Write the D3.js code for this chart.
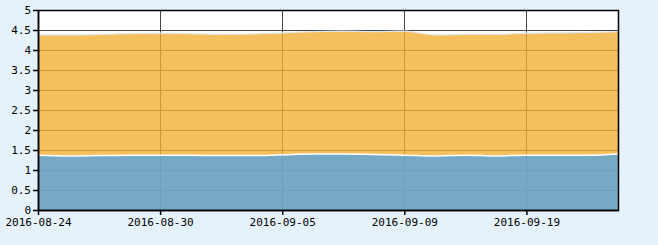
<!DOCTYPE html>
<html>
<head>
<meta charset="utf-8">
<script src="https://cdn.jsdelivr.net/npm/d3@7"></script>
<style>
  body { margin: 0; background: #e6f2fb; }
  svg { display: block; }
  .tick text { font-family: "DejaVu Sans Mono", monospace; font-size: 11px; fill: #000; }
</style>
</head>
<body>
<svg id="chart" width="658" height="245"></svg>
<script>
var dates = ["2016-08-24", "2016-08-25", "2016-08-26", "2016-08-29", "2016-08-30",
  "2016-08-31", "2016-09-01", "2016-09-02", "2016-09-05", "2016-09-06",
  "2016-09-07", "2016-09-08", "2016-09-09", "2016-09-12", "2016-09-13",
  "2016-09-14", "2016-09-19", "2016-09-20", "2016-09-21", "2016-09-22"];
var lower = [1.37, 1.35, 1.36, 1.37, 1.37, 1.37, 1.36, 1.36, 1.38, 1.40,
  1.40, 1.39, 1.37, 1.35, 1.37, 1.35, 1.37, 1.37, 1.37, 1.40];
var upper = [3.01, 3.03, 3.03, 3.04, 3.05, 3.04, 3.03, 3.04, 3.05, 3.06,
  3.07, 3.07, 3.10, 3.03, 3.02, 3.04, 3.05, 3.06, 3.07, 3.06];
var xLabels = ["2016-08-24", "2016-08-30", "2016-09-05", "2016-09-09", "2016-09-19"];
var yTicks = [0, 0.5, 1, 1.5, 2, 2.5, 3, 3.5, 4, 4.5, 5];

var svg = d3.select("#chart"),
    margin = {top: 10, right: 40, bottom: 35, left: 38},
    width = svg.attr("width") - margin.left - margin.right,
    height = svg.attr("height") - margin.top - margin.bottom;

var x = d3.scalePoint().domain(dates).range([0, width]);
var y = d3.scaleLinear().domain([0, 5]).range([height, 0]);

var g = svg.append("g")
    .attr("transform", "translate(" + margin.left + "," + margin.top + ")");

g.append("rect").attr("width", width).attr("height", height).attr("fill", "#fff");

// grid
g.selectAll(".hgrid").data(yTicks.slice(1, -1)).enter().append("line")
    .attr("x1", 0).attr("x2", width)
    .attr("y1", function(d) { return y(d) + 0.5; })
    .attr("y2", function(d) { return y(d) + 0.5; })
    .attr("stroke", "#444");
g.selectAll(".vgrid").data(xLabels.slice(1)).enter().append("line")
    .attr("x1", function(d) { return Math.round(x(d)) + 0.5; })
    .attr("x2", function(d) { return Math.round(x(d)) + 0.5; })
    .attr("y1", 0).attr("y2", height)
    .attr("stroke", "#444");

var rows = dates.map(function(d, i) { return {date: d, lower: lower[i], upper: upper[i]}; });
var stack = d3.stack().keys(["lower", "upper"])(rows);

var area = d3.area()
    .x(function(d) { return x(d.data.date); })
    .y0(function(d) { return y(d[0]); })
    .y1(function(d) { return y(d[1]); })
    .curve(d3.curveMonotoneX);
var line = d3.line()
    .x(function(d) { return x(d.data.date); })
    .y(function(d) { return y(d[1]); })
    .curve(d3.curveMonotoneX);

var fills = ["rgb(110,164,194)", "rgb(241,174,49)"];
var opac = [0.95, 0.78];
var edges = ["#ffffff", "#dde9f2"];

g.selectAll(".layer").data(stack).enter().append("path")
    .attr("d", area)
    .attr("fill", function(d, i) { return fills[i]; })
    .attr("fill-opacity", function(d, i) { return opac[i]; });
g.selectAll(".edge").data(stack).enter().append("path")
    .attr("d", line)
    .attr("fill", "none")
    .attr("stroke", function(d, i) { return edges[i]; })
    .attr("stroke-width", function(d, i) { return i ? 1.2 : 1.5; });

// frame
g.append("rect").attr("x", 0.5).attr("y", 0.5)
    .attr("width", width).attr("height", height)
    .attr("fill", "none").attr("stroke", "#000").attr("stroke-width", 1.5);

var yAxis = g.append("g").call(d3.axisLeft(y).tickValues(yTicks).tickSize(5).tickSizeOuter(0).tickPadding(2)
    .tickFormat(function(d) { return d; }));
yAxis.select(".domain").attr("stroke", "#000").attr("stroke-width", 1.5);
yAxis.selectAll(".tick line").attr("stroke", "#000").attr("stroke-width", 1.5);

var xAxis = g.append("g").attr("transform", "translate(0," + height + ")")
    .call(d3.axisBottom(x).tickValues(xLabels).tickSize(5).tickSizeOuter(0).tickPadding(3));
xAxis.select(".domain").attr("stroke", "#000").attr("stroke-width", 1.5);
xAxis.selectAll(".tick line").attr("stroke", "#000").attr("stroke-width", 1.5);
</script>
</body>
</html>
